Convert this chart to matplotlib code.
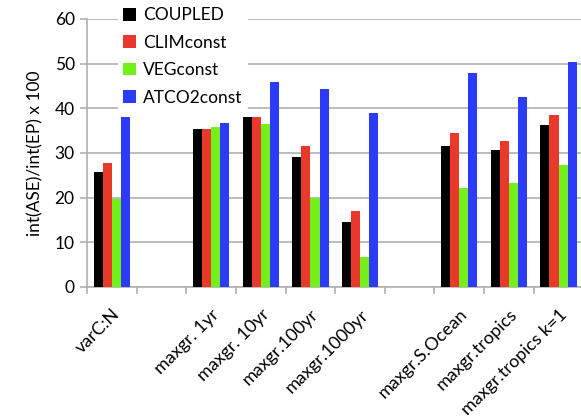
import matplotlib
matplotlib.use("Agg")
import matplotlib.pyplot as plt
import numpy as np
from matplotlib.patches import Patch

plt.rcParams['font.family'] = ['Lato', 'DejaVu Sans']

categories = ["varC:N", "", "maxgr. 1yr", "maxgr. 10yr", "maxgr.100yr",
              "maxgr.1000yr", "", "maxgr.S.Ocean", "maxgr.tropics",
              "maxgr.tropics k=1"]
series_names = ["COUPLED", "CLIMconst", "VEGconst", "ATCO2const"]
coupled   = [25.7, np.nan, 35.3, 38.1, 29.0, 14.6, np.nan, 31.6, 30.7, 36.2]
climconst = [27.8, np.nan, 35.3, 38.1, 31.6, 16.9, np.nan, 34.4, 32.6, 38.5]
vegconst  = [19.6, np.nan, 35.8, 36.5, 19.9, 6.6, np.nan, 22.1, 23.2, 27.2]
atco2     = [38.0, np.nan, 36.6, 45.9, 44.3, 38.9, np.nan, 47.8, 42.5, 50.4]
yticks = [0, 10, 20, 30, 40, 50, 60]

colors = ["#000000", "#E8392A", "#73F01A", "#2B3BF7"]
values = [coupled, climconst, vegconst, atco2]

fig = plt.figure(figsize=(5.81, 4.20), dpi=100)
ax = fig.add_axes([0.150, 0.317, 0.854, 0.638])

x = np.arange(len(categories))
bw = 0.183
for i, (vals, c) in enumerate(zip(values, colors)):
    ax.bar(x + (i - 1.5) * bw, vals, width=bw, color=c, zorder=3, linewidth=0)

ax.set_xlim(-0.5, len(categories) - 0.5)
ax.set_ylim(0, 60)
ax.set_yticks(yticks)
ax.yaxis.grid(True, color="#b0b0b0", linewidth=1.2, zorder=0)
ax.tick_params(axis='y', labelsize=12.5, length=5, color="#b0b0b0", width=1.2, pad=4)

ax.set_xticks(x)
ax.set_xticklabels(categories, rotation=45, ha='right', rotation_mode='anchor', fontsize=13)
ax.tick_params(axis='x', which='major', length=0, pad=14)
ax.set_xticks(np.arange(-0.5, len(categories), 1.0), minor=True)
ax.tick_params(axis='x', which='minor', length=5, color="#b0b0b0", width=1.2)

for side in ["top", "right"]:
    ax.spines[side].set_visible(False)
for side in ["left", "bottom"]:
    ax.spines[side].set_color("#b0b0b0")
    ax.spines[side].set_linewidth(1.2)

ax.set_ylabel("int(ASE)/int(EP) x 100", fontsize=12.5, labelpad=8)

handles = [Patch(facecolor=c, edgecolor='none') for c in colors]
leg = fig.legend(handles, series_names, loc='upper left',
                 bbox_to_anchor=(118 / 581, 1 - 2 / 420), frameon=True,
                 fontsize=12.5, handlelength=0.75, handleheight=0.75,
                 handletextpad=0.4, labelspacing=0.66, borderpad=0.3,
                 borderaxespad=0)
leg.get_frame().set_facecolor("white")
leg.get_frame().set_edgecolor("none")
leg.get_frame().set_alpha(1.0)
leg.set_zorder(5)

fig.savefig("out.png", dpi=100)
